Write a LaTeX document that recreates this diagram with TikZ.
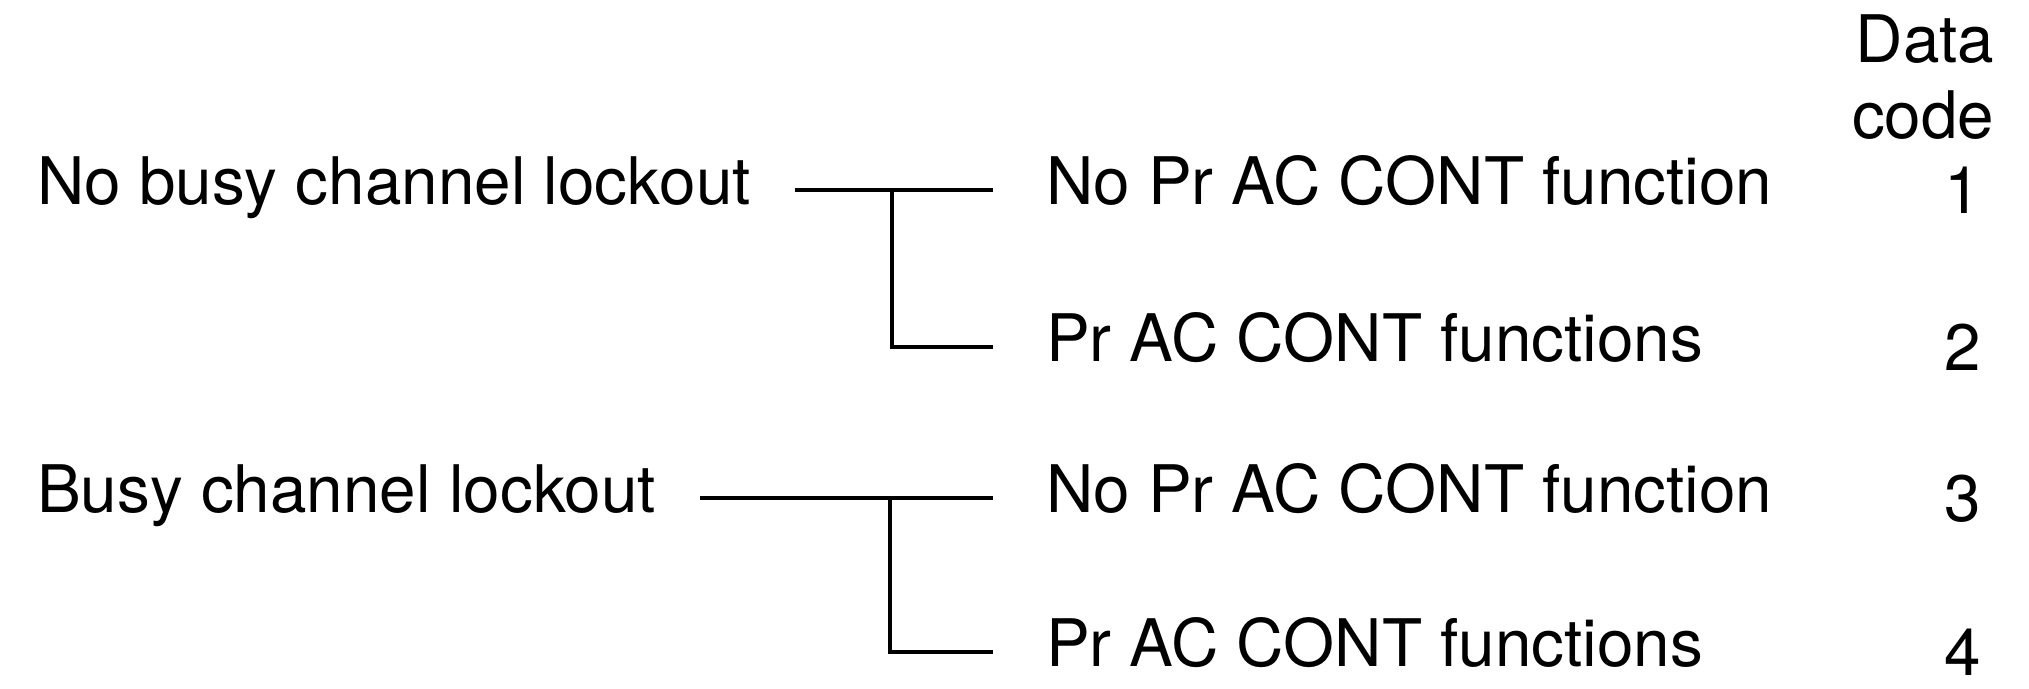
\documentclass[tikz,border=0pt]{standalone}
\usepackage{fontspec}
\setmainfont{TeX Gyre Heros}
\usetikzlibrary{calc}
\tikzset{%
  entry/.style={inner sep=0pt, text height=0.72em, text depth=0pt,
    font=\fontsize{16.4}{19}\selectfont},
  source/.style={entry, anchor=west, outer xsep=11pt},
  choice/.style={entry, anchor=west, outer xsep=13.25pt},
  wire/.style={line width=0.9pt},
}

\begin{document}
\begin{tikzpicture}[x=0.25pt, y=-0.25pt]
    \useasboundingbox (0,0) rectangle (2029,688);

    % column head
    \node[entry, anchor=east] (head1) at (1995,48) {Data};
    \node[entry, anchor=east] (head2) at (1995,124) {code};

    \node[source] (src1) at (-7,190) {No busy channel lockout};
    \node[source] (src2) at (-7,498) {Busy channel lockout};

    \foreach \n/\y/\txt in {1/190/No Pr AC CONT function,
        2/347/Pr AC CONT functions,
        3/498/No Pr AC CONT function,
        4/652/Pr AC CONT functions} {
      \node[choice] (opt\n) at (993,\y) {\txt};
      \node[entry] (code\n) at (1963,\y+9) {\n};
    }

    \coordinate (j1) at (892,190);
    \coordinate (j2) at (890,498);

    \draw[wire] (src1) -- (opt1);
    \draw[wire] (j1) |- (opt2.west);
    \draw[wire] (src2) -- (opt3);
    \draw[wire] (j2) |- (opt4.west);
\end{tikzpicture}
\end{document}
